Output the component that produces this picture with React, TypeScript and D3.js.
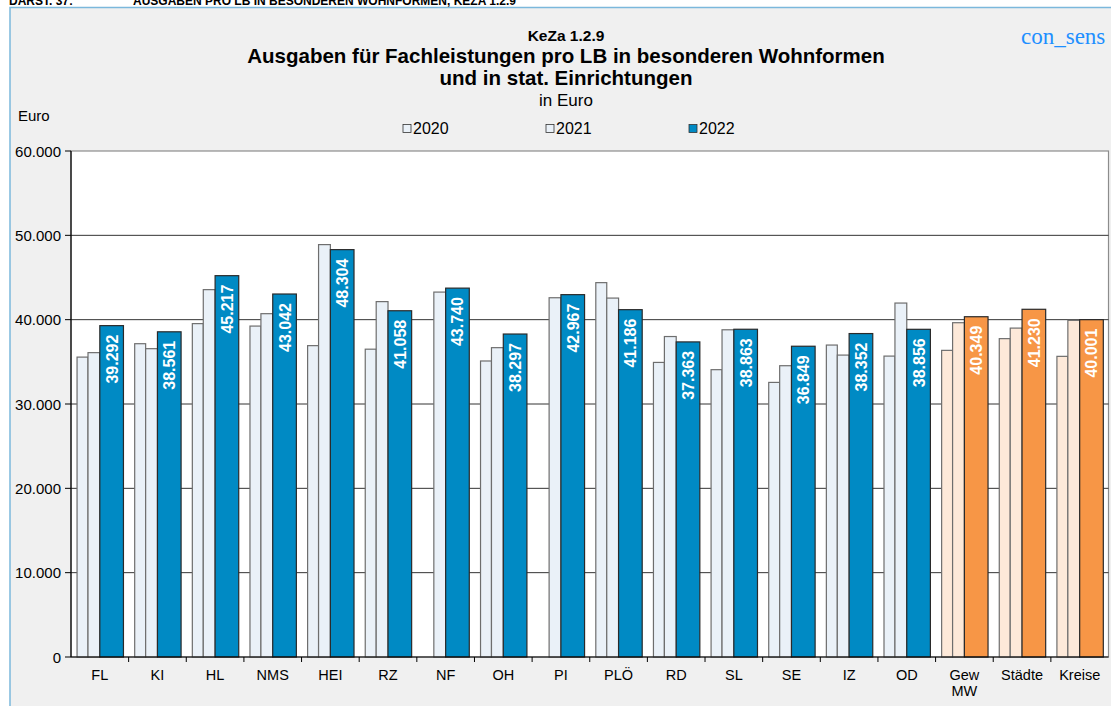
import * as d3 from "d3";

const categories = ["FL", "KI", "HL", "NMS", "HEI", "RZ", "NF", "OH", "PI", "PLÖ", "RD", "SL", "SE", "IZ", "OD", "Gew MW", "Städte", "Kreise"];
const aggregates = ["Gew MW", "Städte", "Kreise"];
const v2020: (number | null)[] = [35560, 37150, 39530, 39240, 36920, 36500, null, 35100, null, 44390, 34930, 34070, 32560, 36990, 35680, 36360, 37750, 35650];
const v2021: (number | null)[] = [36090, 36560, 43560, 40710, 48900, 42140, 43270, 36680, 42600, 42560, 38000, 38800, 34540, 35800, 41970, 39640, 39000, 39920];
const v2022: number[] = [39292, 38561, 45217, 43042, 48304, 41058, 43740, 38297, 42967, 41186, 37363, 38863, 36849, 38352, 38856, 40349, 41230, 40001];
const yTicks = [0, 10000, 20000, 30000, 40000, 50000, 60000];
const years = ["2020", "2021", "2022"];

const W = 1111;
const H = 706;
const m = { left: 71, right: 1108.5, top: 151, bottom: 657 };

const LIGHT = "#EAF1F8";
const BLUE = "#008AC4";
const LIGHT_OR = "#FDE9D9";
const ORANGE = "#F79646";
const FONT = "'Liberation Sans', Arial, sans-serif";

// slot of each series inside one category (fractions of the band)
const slots = [
  [0.105, 0.295],
  [0.295, 0.5],
  [0.5, 0.91],
];

const fmt = (v: number) => d3.format(",")(v).replace(/,/g, ".");

export default function App() {
  const x = d3.scaleBand().domain(categories).range([m.left, m.right]).padding(0);
  const y = d3.scaleLinear().domain([0, 60000]).range([m.bottom, m.top]);
  const bw = x.bandwidth();

  const series = [v2020, v2021, v2022];

  return (
    <div style={{ position: "absolute", left: 0, top: 0 }}>
      <svg width={W} height={H} style={{ display: "block", fontFamily: FONT }}>
        <rect x={0} y={0} width={W} height={H} fill="#fff" />
        <text x={9} y={4.5} fontSize={12} fontWeight="bold" fill="#000">DARST. 37:</text>
        <text x={133} y={4.5} fontSize={12} fontWeight="bold" fill="#000">AUSGABEN PRO LB IN BESONDEREN WOHNFORMEN, KEZA 1.2.9</text>
        <rect x={10} y={7.5} width={W + 10} height={H} fill="#F0F0F0" stroke="#7BB8DC" strokeWidth={1.5} />

        {/* titles */}
        <text x={566} y={41} textAnchor="middle" fontSize={15.5} fontWeight="bold">KeZa 1.2.9</text>
        <text x={566} y={63} textAnchor="middle" fontSize={20.5} fontWeight="bold">Ausgaben für Fachleistungen pro LB in besonderen Wohnformen</text>
        <text x={566} y={84.5} textAnchor="middle" fontSize={20.5} fontWeight="bold">und in stat. Einrichtungen</text>
        <text x={566} y={106} textAnchor="middle" fontSize={17}>in Euro</text>
        <text x={1021} y={44} fontSize={23} fill="#1E8FFF" fontFamily="'Liberation Serif', 'DejaVu Serif', serif">con_sens</text>
        <text x={18} y={121} fontSize={15}>Euro</text>

        {/* legend */}
        {years.map((yr, i) => {
          const lx = [403, 546, 689][i];
          return (
            <g key={yr}>
              <rect x={lx} y={124.5} width={8} height={8} fill={i === 2 ? BLUE : LIGHT} stroke="#333" strokeWidth={0.8} />
              <text x={lx + 10} y={134} fontSize={16}>{yr}</text>
            </g>
          );
        })}

        {/* plot area */}
        <rect x={m.left} y={m.top} width={m.right - m.left} height={m.bottom - m.top} fill="#fff" stroke="#8c8c8c" strokeWidth={1.2} />
        {yTicks.filter((t) => t > 0 && t < 60000).map((t) => (
          <line key={t} x1={m.left} x2={m.right} y1={y(t)} y2={y(t)} stroke="#333" strokeWidth={1} />
        ))}

        {/* bars */}
        {categories.map((c, ci) => {
          const agg = aggregates.includes(c);
          return (
            <g key={c}>
              {series.map((s, si) => {
                const v = s[ci];
                if (v == null) return null;
                const x0 = (x(c) as number) + slots[si][0] * bw;
                const x1 = (x(c) as number) + slots[si][1] * bw;
                const fill = si === 2 ? (agg ? ORANGE : BLUE) : agg ? LIGHT_OR : LIGHT;
                return (
                  <rect key={si} x={x0} y={y(v)} width={x1 - x0} height={y(0) - y(v)} fill={fill}
                    stroke={si === 2 ? "#2a2a2a" : "#6e6e6e"} strokeWidth={1.2} />
                );
              })}
              {(() => {
                const cx = (x(c) as number) + ((slots[2][0] + slots[2][1]) / 2) * bw;
                const ty = y(v2022[ci]) + 9;
                return (
                  <text transform={`translate(${cx + 6},${ty}) rotate(-90)`} textAnchor="end" fontSize={16}
                    fontWeight="bold" fill="#fff">{fmt(v2022[ci])}</text>
                );
              })()}
            </g>
          );
        })}

        {/* axes */}
        <line x1={m.left} x2={m.left} y1={m.top} y2={m.bottom} stroke="#000" strokeWidth={1.2} />
        <line x1={m.left} x2={m.right} y1={m.bottom} y2={m.bottom} stroke="#000" strokeWidth={1.2} />
        {yTicks.map((t) => (
          <g key={t}>
            <line x1={m.left - 6} x2={m.left} y1={y(t)} y2={y(t)} stroke="#000" />
            <text x={m.left - 10} y={y(t) + 5.5} textAnchor="end" fontSize={15}>{fmt(t)}</text>
          </g>
        ))}
        {categories.map((c, ci) => (
          <g key={c}>
            {ci > 0 && <line x1={x(c)} x2={x(c)} y1={m.bottom} y2={m.bottom + 5} stroke="#000" />}
            {c.split(" ").map((part, pi) => (
              <text key={pi} x={(x(c) as number) + bw / 2} y={m.bottom + 23 + pi * 16} textAnchor="middle" fontSize={14.5}>{part}</text>
            ))}
          </g>
        ))}
      </svg>
    </div>
  );
}
